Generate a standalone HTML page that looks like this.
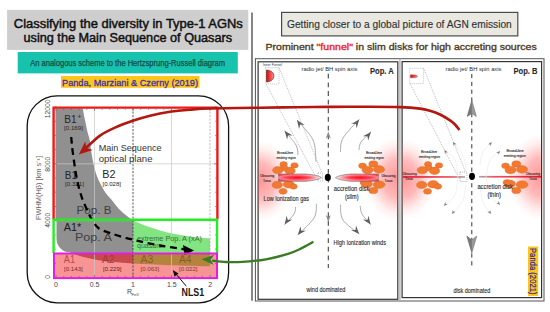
<!DOCTYPE html>
<html><head><meta charset="utf-8"><style>
html,body{margin:0;padding:0;background:#fff;}
body{width:550px;height:312px;overflow:hidden;position:relative;font-family:"Liberation Sans", sans-serif;}
svg{position:absolute;left:0;top:0;}
</style></head><body>
<svg width="550" height="312" viewBox="0 0 550 312" font-family='"Liberation Sans", sans-serif'>
<!-- left header -->
<rect x="7.1" y="9.9" width="241.2" height="40" fill="#cecece"/>
<text x="128.3" y="27.7" font-size="12.1" font-weight="normal" stroke="#111" stroke-width="0.45" text-anchor="middle" fill="#111" textLength="229" lengthAdjust="spacingAndGlyphs">Classifying the diversity in Type-1 AGNs</text>
<text x="127.8" y="41.5" font-size="12.1" font-weight="normal" stroke="#111" stroke-width="0.45" text-anchor="middle" fill="#111" textLength="208.5" lengthAdjust="spacingAndGlyphs">using the Main Sequence of Quasars</text>
<rect x="17.7" y="52" width="220.1" height="21.4" fill="#18c3ad"/>
<text x="30.3" y="66.2" font-size="8.8" fill="#0f4d48" stroke="#0f4d48" stroke-width="0.25" textLength="194.7" lengthAdjust="spacingAndGlyphs">An analogous scheme to the Hertzsprung-Russell diagram</text>
<rect x="61" y="76" width="138.4" height="11.8" fill="#ffc61a"/>
<text x="62" y="85.8" font-size="9.8" fill="#3a30b4" stroke="#3a30b4" stroke-width="0.3" textLength="136" lengthAdjust="spacingAndGlyphs">Panda, Marziani &amp; Czerny (2019)</text>
<!-- rounded box -->
<rect x="27.2" y="95.8" width="201.4" height="207" rx="30" ry="30" fill="none" stroke="#111" stroke-width="1.3"/>

<defs>
 <clipPath id="cG"><rect x="54" y="100" width="79" height="153"/></clipPath>
 <clipPath id="cGr"><rect x="133" y="100" width="84" height="153"/></clipPath>
 <clipPath id="cR"><rect x="54" y="253" width="79" height="30"/></clipPath>
 <clipPath id="cB"><rect x="133" y="253" width="84" height="30"/></clipPath>
</defs>
<rect x="54" y="253" width="163" height="24.5" fill="#f89494"/>
<path d="M55.5,108.5 L82.7,108.5 C83.08,110.42 84.20,116.08 85.00,120.00 C85.80,123.92 86.72,128.67 87.50,132.00 C88.28,135.33 89.12,137.00 89.70,140.00 C90.28,143.00 90.50,146.67 91.00,150.00 C91.50,153.33 92.03,156.67 92.70,160.00 C93.37,163.33 94.03,166.67 95.00,170.00 C95.97,173.33 97.03,176.67 98.50,180.00 C99.97,183.33 102.33,187.50 103.80,190.00 C105.27,192.50 105.83,193.17 107.30,195.00 C108.77,196.83 110.65,198.67 112.60,201.00 C114.55,203.33 116.72,206.60 119.00,209.00 C121.28,211.40 123.88,213.48 126.30,215.40 C128.72,217.32 130.38,218.82 133.50,220.50 C136.62,222.18 141.08,224.00 145.00,225.50 C148.92,227.00 152.83,228.25 157.00,229.50 C161.17,230.75 164.50,231.83 170.00,233.00 C175.50,234.17 183.33,235.58 190.00,236.50 C196.67,237.42 206.67,238.17 210.00,238.50 L210,266.3 C203.33,266.12 182.83,265.65 170.00,265.20 C157.17,264.75 143.00,264.20 133.00,263.60 C123.00,263.00 116.33,262.30 110.00,261.60 C103.67,260.90 100.00,260.33 95.00,259.40 C90.00,258.47 84.33,257.20 80.00,256.00 C75.67,254.80 70.83,252.83 69.00,252.20 A12.5,14 0 0 1 56.5,238 L56.5,219.5 L55.5,219.5 L55.5,108.5 Z" fill="#909090" clip-path="url(#cG)"/>
<path d="M55.5,108.5 L82.7,108.5 C83.08,110.42 84.20,116.08 85.00,120.00 C85.80,123.92 86.72,128.67 87.50,132.00 C88.28,135.33 89.12,137.00 89.70,140.00 C90.28,143.00 90.50,146.67 91.00,150.00 C91.50,153.33 92.03,156.67 92.70,160.00 C93.37,163.33 94.03,166.67 95.00,170.00 C95.97,173.33 97.03,176.67 98.50,180.00 C99.97,183.33 102.33,187.50 103.80,190.00 C105.27,192.50 105.83,193.17 107.30,195.00 C108.77,196.83 110.65,198.67 112.60,201.00 C114.55,203.33 116.72,206.60 119.00,209.00 C121.28,211.40 123.88,213.48 126.30,215.40 C128.72,217.32 130.38,218.82 133.50,220.50 C136.62,222.18 141.08,224.00 145.00,225.50 C148.92,227.00 152.83,228.25 157.00,229.50 C161.17,230.75 164.50,231.83 170.00,233.00 C175.50,234.17 183.33,235.58 190.00,236.50 C196.67,237.42 206.67,238.17 210.00,238.50 L210,266.3 C203.33,266.12 182.83,265.65 170.00,265.20 C157.17,264.75 143.00,264.20 133.00,263.60 C123.00,263.00 116.33,262.30 110.00,261.60 C103.67,260.90 100.00,260.33 95.00,259.40 C90.00,258.47 84.33,257.20 80.00,256.00 C75.67,254.80 70.83,252.83 69.00,252.20 A12.5,14 0 0 1 56.5,238 L56.5,219.5 L55.5,219.5 L55.5,108.5 Z" fill="#82e582" clip-path="url(#cGr)"/>
<path d="M55.5,108.5 L82.7,108.5 C83.08,110.42 84.20,116.08 85.00,120.00 C85.80,123.92 86.72,128.67 87.50,132.00 C88.28,135.33 89.12,137.00 89.70,140.00 C90.28,143.00 90.50,146.67 91.00,150.00 C91.50,153.33 92.03,156.67 92.70,160.00 C93.37,163.33 94.03,166.67 95.00,170.00 C95.97,173.33 97.03,176.67 98.50,180.00 C99.97,183.33 102.33,187.50 103.80,190.00 C105.27,192.50 105.83,193.17 107.30,195.00 C108.77,196.83 110.65,198.67 112.60,201.00 C114.55,203.33 116.72,206.60 119.00,209.00 C121.28,211.40 123.88,213.48 126.30,215.40 C128.72,217.32 130.38,218.82 133.50,220.50 C136.62,222.18 141.08,224.00 145.00,225.50 C148.92,227.00 152.83,228.25 157.00,229.50 C161.17,230.75 164.50,231.83 170.00,233.00 C175.50,234.17 183.33,235.58 190.00,236.50 C196.67,237.42 206.67,238.17 210.00,238.50 L210,266.3 C203.33,266.12 182.83,265.65 170.00,265.20 C157.17,264.75 143.00,264.20 133.00,263.60 C123.00,263.00 116.33,262.30 110.00,261.60 C103.67,260.90 100.00,260.33 95.00,259.40 C90.00,258.47 84.33,257.20 80.00,256.00 C75.67,254.80 70.83,252.83 69.00,252.20 A12.5,14 0 0 1 56.5,238 L56.5,219.5 L55.5,219.5 L55.5,108.5 Z" fill="#c84a4a" clip-path="url(#cR)"/>
<path d="M55.5,108.5 L82.7,108.5 C83.08,110.42 84.20,116.08 85.00,120.00 C85.80,123.92 86.72,128.67 87.50,132.00 C88.28,135.33 89.12,137.00 89.70,140.00 C90.28,143.00 90.50,146.67 91.00,150.00 C91.50,153.33 92.03,156.67 92.70,160.00 C93.37,163.33 94.03,166.67 95.00,170.00 C95.97,173.33 97.03,176.67 98.50,180.00 C99.97,183.33 102.33,187.50 103.80,190.00 C105.27,192.50 105.83,193.17 107.30,195.00 C108.77,196.83 110.65,198.67 112.60,201.00 C114.55,203.33 116.72,206.60 119.00,209.00 C121.28,211.40 123.88,213.48 126.30,215.40 C128.72,217.32 130.38,218.82 133.50,220.50 C136.62,222.18 141.08,224.00 145.00,225.50 C148.92,227.00 152.83,228.25 157.00,229.50 C161.17,230.75 164.50,231.83 170.00,233.00 C175.50,234.17 183.33,235.58 190.00,236.50 C196.67,237.42 206.67,238.17 210.00,238.50 L210,266.3 C203.33,266.12 182.83,265.65 170.00,265.20 C157.17,264.75 143.00,264.20 133.00,263.60 C123.00,263.00 116.33,262.30 110.00,261.60 C103.67,260.90 100.00,260.33 95.00,259.40 C90.00,258.47 84.33,257.20 80.00,256.00 C75.67,254.80 70.83,252.83 69.00,252.20 A12.5,14 0 0 1 56.5,238 L56.5,219.5 L55.5,219.5 L55.5,108.5 Z" fill="#b4843e" clip-path="url(#cB)"/>
<line x1="94.5" y1="108" x2="94.5" y2="277" stroke="#c8c8c8" stroke-width="0.7"/><line x1="171.5" y1="108" x2="171.5" y2="277" stroke="#c8c8c8" stroke-width="0.7"/><line x1="133.0" y1="108" x2="133.0" y2="277" stroke="#333" stroke-width="0.8" stroke-dasharray="2.2,1.3"/><line x1="210.0" y1="108" x2="210.0" y2="277" stroke="#a8a8a8" stroke-width="0.8" stroke-dasharray="2.2,1.3"/><line x1="54" y1="163.8" x2="217" y2="163.8" stroke="#c8c8c8" stroke-width="0.7"/><line x1="54" y1="220.7" x2="217" y2="220.7" stroke="#c8c8c8" stroke-width="0.7"/>
<line x1="56.0" y1="277.5" x2="56.0" y2="275.0" stroke="#444" stroke-width="0.5"/><line x1="56.0" y1="108.5" x2="56.0" y2="111.0" stroke="#444" stroke-width="0.5"/><line x1="63.7" y1="277.5" x2="63.7" y2="276.0" stroke="#444" stroke-width="0.5"/><line x1="63.7" y1="108.5" x2="63.7" y2="110.0" stroke="#444" stroke-width="0.5"/><line x1="71.4" y1="277.5" x2="71.4" y2="276.0" stroke="#444" stroke-width="0.5"/><line x1="71.4" y1="108.5" x2="71.4" y2="110.0" stroke="#444" stroke-width="0.5"/><line x1="79.1" y1="277.5" x2="79.1" y2="276.0" stroke="#444" stroke-width="0.5"/><line x1="79.1" y1="108.5" x2="79.1" y2="110.0" stroke="#444" stroke-width="0.5"/><line x1="86.8" y1="277.5" x2="86.8" y2="276.0" stroke="#444" stroke-width="0.5"/><line x1="86.8" y1="108.5" x2="86.8" y2="110.0" stroke="#444" stroke-width="0.5"/><line x1="94.5" y1="277.5" x2="94.5" y2="275.0" stroke="#444" stroke-width="0.5"/><line x1="94.5" y1="108.5" x2="94.5" y2="111.0" stroke="#444" stroke-width="0.5"/><line x1="102.2" y1="277.5" x2="102.2" y2="276.0" stroke="#444" stroke-width="0.5"/><line x1="102.2" y1="108.5" x2="102.2" y2="110.0" stroke="#444" stroke-width="0.5"/><line x1="109.9" y1="277.5" x2="109.9" y2="276.0" stroke="#444" stroke-width="0.5"/><line x1="109.9" y1="108.5" x2="109.9" y2="110.0" stroke="#444" stroke-width="0.5"/><line x1="117.6" y1="277.5" x2="117.6" y2="276.0" stroke="#444" stroke-width="0.5"/><line x1="117.6" y1="108.5" x2="117.6" y2="110.0" stroke="#444" stroke-width="0.5"/><line x1="125.3" y1="277.5" x2="125.3" y2="276.0" stroke="#444" stroke-width="0.5"/><line x1="125.3" y1="108.5" x2="125.3" y2="110.0" stroke="#444" stroke-width="0.5"/><line x1="133.0" y1="277.5" x2="133.0" y2="275.0" stroke="#444" stroke-width="0.5"/><line x1="133.0" y1="108.5" x2="133.0" y2="111.0" stroke="#444" stroke-width="0.5"/><line x1="140.7" y1="277.5" x2="140.7" y2="276.0" stroke="#444" stroke-width="0.5"/><line x1="140.7" y1="108.5" x2="140.7" y2="110.0" stroke="#444" stroke-width="0.5"/><line x1="148.4" y1="277.5" x2="148.4" y2="276.0" stroke="#444" stroke-width="0.5"/><line x1="148.4" y1="108.5" x2="148.4" y2="110.0" stroke="#444" stroke-width="0.5"/><line x1="156.1" y1="277.5" x2="156.1" y2="276.0" stroke="#444" stroke-width="0.5"/><line x1="156.1" y1="108.5" x2="156.1" y2="110.0" stroke="#444" stroke-width="0.5"/><line x1="163.8" y1="277.5" x2="163.8" y2="276.0" stroke="#444" stroke-width="0.5"/><line x1="163.8" y1="108.5" x2="163.8" y2="110.0" stroke="#444" stroke-width="0.5"/><line x1="171.5" y1="277.5" x2="171.5" y2="275.0" stroke="#444" stroke-width="0.5"/><line x1="171.5" y1="108.5" x2="171.5" y2="111.0" stroke="#444" stroke-width="0.5"/><line x1="179.2" y1="277.5" x2="179.2" y2="276.0" stroke="#444" stroke-width="0.5"/><line x1="179.2" y1="108.5" x2="179.2" y2="110.0" stroke="#444" stroke-width="0.5"/><line x1="186.9" y1="277.5" x2="186.9" y2="276.0" stroke="#444" stroke-width="0.5"/><line x1="186.9" y1="108.5" x2="186.9" y2="110.0" stroke="#444" stroke-width="0.5"/><line x1="194.6" y1="277.5" x2="194.6" y2="276.0" stroke="#444" stroke-width="0.5"/><line x1="194.6" y1="108.5" x2="194.6" y2="110.0" stroke="#444" stroke-width="0.5"/><line x1="202.3" y1="277.5" x2="202.3" y2="276.0" stroke="#444" stroke-width="0.5"/><line x1="202.3" y1="108.5" x2="202.3" y2="110.0" stroke="#444" stroke-width="0.5"/><line x1="210.0" y1="277.5" x2="210.0" y2="275.0" stroke="#444" stroke-width="0.5"/><line x1="210.0" y1="108.5" x2="210.0" y2="111.0" stroke="#444" stroke-width="0.5"/><line x1="217.7" y1="277.5" x2="217.7" y2="276.0" stroke="#444" stroke-width="0.5"/><line x1="217.7" y1="108.5" x2="217.7" y2="110.0" stroke="#444" stroke-width="0.5"/><line x1="54.5" y1="277.5" x2="57.0" y2="277.5" stroke="#444" stroke-width="0.5"/><line x1="216.5" y1="277.5" x2="214.0" y2="277.5" stroke="#444" stroke-width="0.5"/><line x1="54.5" y1="263.3" x2="56.0" y2="263.3" stroke="#444" stroke-width="0.5"/><line x1="216.5" y1="263.3" x2="215.0" y2="263.3" stroke="#444" stroke-width="0.5"/><line x1="54.5" y1="249.1" x2="56.0" y2="249.1" stroke="#444" stroke-width="0.5"/><line x1="216.5" y1="249.1" x2="215.0" y2="249.1" stroke="#444" stroke-width="0.5"/><line x1="54.5" y1="234.9" x2="56.0" y2="234.9" stroke="#444" stroke-width="0.5"/><line x1="216.5" y1="234.9" x2="215.0" y2="234.9" stroke="#444" stroke-width="0.5"/><line x1="54.5" y1="220.7" x2="57.0" y2="220.7" stroke="#444" stroke-width="0.5"/><line x1="216.5" y1="220.7" x2="214.0" y2="220.7" stroke="#444" stroke-width="0.5"/><line x1="54.5" y1="206.5" x2="56.0" y2="206.5" stroke="#444" stroke-width="0.5"/><line x1="216.5" y1="206.5" x2="215.0" y2="206.5" stroke="#444" stroke-width="0.5"/><line x1="54.5" y1="192.2" x2="56.0" y2="192.2" stroke="#444" stroke-width="0.5"/><line x1="216.5" y1="192.2" x2="215.0" y2="192.2" stroke="#444" stroke-width="0.5"/><line x1="54.5" y1="178.0" x2="56.0" y2="178.0" stroke="#444" stroke-width="0.5"/><line x1="216.5" y1="178.0" x2="215.0" y2="178.0" stroke="#444" stroke-width="0.5"/><line x1="54.5" y1="163.8" x2="57.0" y2="163.8" stroke="#444" stroke-width="0.5"/><line x1="216.5" y1="163.8" x2="214.0" y2="163.8" stroke="#444" stroke-width="0.5"/><line x1="54.5" y1="149.6" x2="56.0" y2="149.6" stroke="#444" stroke-width="0.5"/><line x1="216.5" y1="149.6" x2="215.0" y2="149.6" stroke="#444" stroke-width="0.5"/><line x1="54.5" y1="135.4" x2="56.0" y2="135.4" stroke="#444" stroke-width="0.5"/><line x1="216.5" y1="135.4" x2="215.0" y2="135.4" stroke="#444" stroke-width="0.5"/><line x1="54.5" y1="121.2" x2="56.0" y2="121.2" stroke="#444" stroke-width="0.5"/><line x1="216.5" y1="121.2" x2="215.0" y2="121.2" stroke="#444" stroke-width="0.5"/><line x1="54.5" y1="107.0" x2="57.0" y2="107.0" stroke="#444" stroke-width="0.5"/><line x1="216.5" y1="107.0" x2="214.0" y2="107.0" stroke="#444" stroke-width="0.5"/>
<g font-family='"Liberation Sans", sans-serif'>
<text x="64.2" y="122.9" font-size="10.6" fill="#262626" text-anchor="start" font-weight="normal" textLength="12.4" lengthAdjust="spacingAndGlyphs" >B1</text><text x="77.6" y="118.6" font-size="6.5" fill="#262626" text-anchor="start" font-weight="normal" >+</text>
<text x="64" y="130" font-size="6.2" fill="#262626" text-anchor="start" font-weight="normal" textLength="19" lengthAdjust="spacingAndGlyphs" >[0.169]</text>
<text x="64.8" y="178.6" font-size="10.6" fill="#262626" text-anchor="start" font-weight="normal" textLength="12.2" lengthAdjust="spacingAndGlyphs" >B1</text>
<text x="65" y="185.5" font-size="6.2" fill="#262626" text-anchor="start" font-weight="normal" textLength="19" lengthAdjust="spacingAndGlyphs" >[0.321]</text>
<text x="102.3" y="178.4" font-size="10.6" fill="#262626" text-anchor="start" font-weight="normal" textLength="13.2" lengthAdjust="spacingAndGlyphs" >B2</text>
<text x="102.5" y="186.3" font-size="6.2" fill="#262626" text-anchor="start" font-weight="normal" textLength="18.5" lengthAdjust="spacingAndGlyphs" >[0.028]</text>
<text x="76.5" y="214" font-size="10.2" fill="#404040" text-anchor="start" font-weight="normal" textLength="35" lengthAdjust="spacingAndGlyphs" >Pop. B</text>
<text x="63.8" y="231.4" font-size="10.6" fill="#1a1a1a" text-anchor="start" font-weight="normal" textLength="17.5" lengthAdjust="spacingAndGlyphs" >A1*</text>
<text x="75" y="241" font-size="10.2" fill="#404040" text-anchor="start" font-weight="normal" textLength="37" lengthAdjust="spacingAndGlyphs" >Pop. A</text>
<text x="98.7" y="151" font-size="9" fill="#333" text-anchor="start" font-weight="normal" textLength="62.8" lengthAdjust="spacingAndGlyphs" >Main Sequence</text>
<text x="98.7" y="161.7" font-size="9" fill="#333" text-anchor="start" font-weight="normal" textLength="53.8" lengthAdjust="spacingAndGlyphs" >optical plane</text>
<text x="63.8" y="262.9" font-size="10.6" fill="#b94848" text-anchor="start" font-weight="normal" textLength="11.2" lengthAdjust="spacingAndGlyphs" >A1</text>
<text x="64" y="270.5" font-size="6.2" fill="#7a2a2a" text-anchor="start" font-weight="normal" textLength="18.8" lengthAdjust="spacingAndGlyphs" >[0.143]</text>
<text x="102" y="262.9" font-size="10.6" fill="#a03a3a" text-anchor="start" font-weight="normal" textLength="12.6" lengthAdjust="spacingAndGlyphs" >A2</text>
<text x="103" y="270.5" font-size="6.2" fill="#6a2020" text-anchor="start" font-weight="normal" textLength="18.5" lengthAdjust="spacingAndGlyphs" >[0.229]</text>
<text x="140.6" y="262.9" font-size="10.6" fill="#8c5a2a" text-anchor="start" font-weight="normal" textLength="12.8" lengthAdjust="spacingAndGlyphs" >A3</text>
<text x="140.6" y="270.5" font-size="6.2" fill="#7a3e2a" text-anchor="start" font-weight="normal" textLength="18.5" lengthAdjust="spacingAndGlyphs" >[0.063]</text>
<text x="179" y="262.9" font-size="10.6" fill="#8c5a2a" text-anchor="start" font-weight="normal" textLength="12.6" lengthAdjust="spacingAndGlyphs" >A4</text>
<text x="179" y="270.5" font-size="6.2" fill="#7a3e2a" text-anchor="start" font-weight="normal" textLength="18.5" lengthAdjust="spacingAndGlyphs" >[0.022]</text>
<text x="137" y="240.5" font-size="7" fill="#3a6e3a" text-anchor="start" font-weight="normal" textLength="65" lengthAdjust="spacingAndGlyphs" >extreme Pop. A (xA)</text>
<text x="137" y="247.8" font-size="7" fill="#3a6e3a" text-anchor="start" font-weight="normal" textLength="25" lengthAdjust="spacingAndGlyphs" >quasars</text>
</g>
<path d="M71.2,137 C71.47,139.57 71.88,145.57 72.80,152.40 C73.72,159.23 75.20,170.52 76.70,178.00 C78.20,185.48 79.83,191.47 81.80,197.30 C83.77,203.13 86.63,208.97 88.50,213.00 C90.37,217.03 91.25,218.92 93.00,221.50 C94.75,224.08 96.22,226.60 99.00,228.50 C101.78,230.40 105.87,231.52 109.70,232.90 C113.53,234.28 118.18,235.68 122.00,236.80 C125.82,237.92 129.27,238.77 132.60,239.60 C135.93,240.43 137.00,240.73 142.00,241.80 C147.00,242.87 155.27,244.72 162.60,246.00 C169.93,247.28 182.10,248.92 186.00,249.50" fill="none" stroke="#000" stroke-width="2.3" stroke-dasharray="6.8,4.6"/>
<path d="M194,250.5 L183,245 L184.5,255 Z" fill="#000"/>
<path d="M53.6,219.5 L53.6,107.6 L217.4,107.6 L217.4,219.5" fill="none" stroke="#ee1a1a" stroke-width="2.4"/>
<path d="M53.6,253 L53.6,219.8 L217,219.8 L217,253" fill="none" stroke="#22ee22" stroke-width="2.4"/>
<rect x="54" y="253.5" width="163" height="24.6" fill="none" stroke="#e21ee2" stroke-width="2"/>
<g font-family='"Liberation Sans", sans-serif' fill="#474747" font-size="7">
 <text x="56" y="286.5" text-anchor="middle">0</text>
 <text x="94.5" y="286.5" text-anchor="middle">0.5</text>
 <text x="133" y="286.5" text-anchor="middle">1</text>
 <text x="171.8" y="286.5" text-anchor="middle">1.5</text>
 <text x="210.3" y="286.5" text-anchor="middle">2</text>
 <text x="127" y="293.5" font-size="7">R</text><text x="131.5" y="295.5" font-size="4.2">FeII</text>
 <text transform="translate(50,108.8) rotate(-90)" text-anchor="middle" font-size="6.8">12000</text>
 <text transform="translate(50,164.2) rotate(-90)" text-anchor="middle" font-size="6.8">8000</text>
 <text transform="translate(50,220.2) rotate(-90)" text-anchor="middle" font-size="6.8">4000</text>
 <text transform="translate(50,276.9) rotate(-90)" text-anchor="middle" font-size="6.8">0</text>
 <text transform="translate(40.8,188) rotate(-90)" text-anchor="middle" font-size="6.6" fill="#666" textLength="64" lengthAdjust="spacingAndGlyphs">FWHM(Hβ) [km s⁻¹]</text>
</g>
<text x="181.5" y="296.4" font-family='"Liberation Sans", sans-serif' font-size="10.6" font-weight="bold" fill="#1a1a1a" textLength="22.7" lengthAdjust="spacingAndGlyphs">NLS1</text>
<line x1="186.3" y1="286.2" x2="176" y2="274" stroke="#111" stroke-width="1"/>
<path d="M172.8,270.1 L178.5,273.5 L174.5,276.8 Z" fill="#111"/>

<!-- divider -->
<line x1="252" y1="12.5" x2="252" y2="300.8" stroke="#444" stroke-width="1.3"/>
<!-- right header -->
<rect x="281.6" y="12.4" width="236.2" height="23.5" fill="#e9e9e1" stroke="#4a4a4a" stroke-width="1.2"/>
<text x="287" y="28" font-size="10.2" fill="#333" stroke="#333" stroke-width="0.15" textLength="224.8" lengthAdjust="spacingAndGlyphs">Getting closer to a global picture of AGN emission</text>
<text x="265.5" y="50.3" font-size="9.8" font-weight="normal" fill="#4e3a24" stroke="#4e3a24" stroke-width="0.35" textLength="271.2" lengthAdjust="spacingAndGlyphs">Prominent <tspan fill="#f01c1c" stroke="#f01c1c">"funnel"</tspan> in slim disks for high accreting sources</text>

<defs>
 <radialGradient id="gl"><stop offset="0" stop-color="#ff4040" stop-opacity="0.55"/><stop offset="0.45" stop-color="#ff4848" stop-opacity="0.38"/><stop offset="0.8" stop-color="#ff6060" stop-opacity="0.1"/><stop offset="1" stop-color="#ff6060" stop-opacity="0"/></radialGradient>
 <linearGradient id="dL" x1="0" x2="1"><stop offset="0" stop-color="#ff4050"/><stop offset="0.55" stop-color="#ff6070"/><stop offset="0.85" stop-color="#ffb8c0"/><stop offset="1" stop-color="#fff4f4"/></linearGradient>
 <linearGradient id="dR" x1="1" x2="0"><stop offset="0" stop-color="#ff4050"/><stop offset="0.55" stop-color="#ff6070"/><stop offset="0.85" stop-color="#ffb8c0"/><stop offset="1" stop-color="#fff4f4"/></linearGradient>
 <linearGradient id="tL" x1="0" x2="1"><stop offset="0" stop-color="#e01828"/><stop offset="0.75" stop-color="#f05060"/><stop offset="1" stop-color="#aaa"/></linearGradient>
 <linearGradient id="tR" x1="1" x2="0"><stop offset="0" stop-color="#e01828"/><stop offset="0.75" stop-color="#f05060"/><stop offset="1" stop-color="#aaa"/></linearGradient>
 <radialGradient id="cr"><stop offset="0" stop-color="#ff0a1e"/><stop offset="0.6" stop-color="#ff4a5a"/><stop offset="1" stop-color="#ffb0b8" stop-opacity="0.6"/></radialGradient>
 <linearGradient id="fn" x1="0" x2="1"><stop offset="0" stop-color="#e00000"/><stop offset="1" stop-color="#ff9090"/></linearGradient>
 <clipPath id="pA"><rect x="258.5" y="62" width="139" height="237"/></clipPath>
 <clipPath id="pB"><rect x="402.3" y="62" width="138.6" height="235"/></clipPath>
</defs>
<!-- frames -->
<rect x="255.4" y="58.7" width="288.6" height="242.3" fill="none" stroke="#555" stroke-width="1"/>
<rect x="258.1" y="61.8" width="139.7" height="237.5" fill="#fff" stroke="#333" stroke-width="1.2"/>
<rect x="402.1" y="61.6" width="139.5" height="236" fill="#fff" stroke="#333" stroke-width="1.2"/>
<line x1="399.9" y1="59" x2="399.9" y2="300.5" stroke="#bbb" stroke-width="1.5"/>

<g clip-path="url(#pA)">
 <ellipse cx="261" cy="181" rx="31" ry="40" fill="url(#gl)"/><ellipse cx="397" cy="179" rx="32" ry="42" fill="url(#gl)"/>
</g>
<g clip-path="url(#pB)">
 <ellipse cx="404" cy="179" rx="31" ry="40" fill="url(#gl)"/><ellipse cx="541" cy="177" rx="33" ry="43" fill="url(#gl)"/>
</g>

<!-- Panel A -->
<g>
 <text x="263" y="66.2" font-size="3.6" fill="#333" style="font-family:'Liberation Sans',sans-serif" textLength="19" lengthAdjust="spacingAndGlyphs">Inner Funnel</text>
 <rect x="265.6" y="67.6" width="13.4" height="16.4" fill="none" stroke="#888" stroke-width="0.5" stroke-dasharray="1,1"/>
 <path d="M266.5,70 A7.5,6 0 0 1 266.5,82 Z" fill="url(#fn)" stroke="#400" stroke-width="0.5"/>
 <line x1="266" y1="84" x2="318" y2="181" stroke="#777" stroke-width="0.5" stroke-dasharray="1,1"/>
 <line x1="279" y1="67.6" x2="322" y2="173" stroke="#777" stroke-width="0.5" stroke-dasharray="1,1"/>
 <rect x="318" y="173" width="4.5" height="8" fill="none" stroke="#777" stroke-width="0.5" stroke-dasharray="1,1"/>
 <line x1="328.3" y1="73.8" x2="328.3" y2="268" stroke="#444" stroke-width="1.1" stroke-dasharray="4.8,3.85"/>
 <path d="M328.30,131.50 L330.80,138.50 L328.30,136.40 L325.80,138.50 Z" fill="#8a8a8a"/>
 <path d="M328.30,222.00 L325.80,215.00 L328.30,217.10 L330.80,215.00 Z" fill="#8a8a8a"/>
 <ellipse cx="283.6" cy="164.2" rx="3.7" ry="2.7" fill="#f27a30" stroke="#dd601c" stroke-width="0.4"/><ellipse cx="294.5" cy="165.4" rx="3.7" ry="2.7" fill="#f27a30" stroke="#dd601c" stroke-width="0.4"/><ellipse cx="284.0" cy="168.0" rx="3.9" ry="2.8" fill="#f27a30" stroke="#dd601c" stroke-width="0.4"/><ellipse cx="277.8" cy="170.2" rx="5.2" ry="3.6" fill="#f27a30" stroke="#dd601c" stroke-width="0.4"/><ellipse cx="290.0" cy="170.8" rx="5.2" ry="3.7" fill="#f27a30" stroke="#dd601c" stroke-width="0.4"/><ellipse cx="277.2" cy="184.9" rx="5.2" ry="3.6" fill="#f27a30" stroke="#dd601c" stroke-width="0.4"/><ellipse cx="288.7" cy="184.3" rx="5.6" ry="3.7" fill="#f27a30" stroke="#dd601c" stroke-width="0.4"/><ellipse cx="293.5" cy="186.5" rx="3.7" ry="2.7" fill="#f27a30" stroke="#dd601c" stroke-width="0.4"/><ellipse cx="283.0" cy="191.3" rx="4.0" ry="2.9" fill="#f27a30" stroke="#dd601c" stroke-width="0.4"/><ellipse cx="362.5" cy="165.8" rx="3.9" ry="2.8" fill="#f27a30" stroke="#dd601c" stroke-width="0.4"/><ellipse cx="373.3" cy="164.0" rx="4.5" ry="3.2" fill="#f27a30" stroke="#dd601c" stroke-width="0.4"/><ellipse cx="367.5" cy="170.0" rx="5.6" ry="3.8" fill="#f27a30" stroke="#dd601c" stroke-width="0.4"/><ellipse cx="379.0" cy="169.4" rx="5.6" ry="3.8" fill="#f27a30" stroke="#dd601c" stroke-width="0.4"/><ellipse cx="364.0" cy="182.4" rx="3.9" ry="2.8" fill="#f27a30" stroke="#dd601c" stroke-width="0.4"/><ellipse cx="366.8" cy="183.9" rx="5.6" ry="3.8" fill="#f27a30" stroke="#dd601c" stroke-width="0.4"/><ellipse cx="379.0" cy="184.6" rx="6.0" ry="3.8" fill="#f27a30" stroke="#dd601c" stroke-width="0.4"/><ellipse cx="373.3" cy="190.4" rx="4.5" ry="3.2" fill="#f27a30" stroke="#dd601c" stroke-width="0.4"/>
 <path d="M278.5,174 L306,174 Q318,175 321.5,177.6 Q318,180.2 306,181.3 L278.5,181.3 Z" fill="url(#dL)" stroke="#6a6a6a" stroke-width="0.6"/>
 <ellipse cx="297" cy="177.6" rx="20" ry="3" fill="url(#cr)"/>
 <path d="M378.5,174 L351,174 Q339,175 335.5,177.6 Q339,180.2 351,181.3 L378.5,181.3 Z" fill="url(#dR)" stroke="#6a6a6a" stroke-width="0.6"/>
 <ellipse cx="360" cy="177.6" rx="20" ry="3" fill="url(#cr)"/>
 <ellipse cx="327.8" cy="177.4" rx="3" ry="3.6" fill="#000"/>
 <path d="M316,162 C315.50,158.33 316.17,147.00 313.00,140.00 C309.83,133.00 299.67,123.33 297.00,120.00" fill="none" stroke="#adadad" stroke-width="1.0"/><path d="M297.00,120.00 L304.66,125.01 L300.17,124.53 L299.09,128.91 Z" fill="#5e5e5e"/>
 <path d="M298,155 C297.67,153.33 298.23,149.03 296.00,145.00 C293.77,140.97 286.50,133.17 284.60,130.80" fill="none" stroke="#adadad" stroke-width="1.0"/><path d="M284.60,130.80 L292.51,135.40 L288.00,135.15 L287.15,139.59 Z" fill="#5e5e5e"/>
 <path d="M340.4,152 C340.83,149.67 339.87,143.43 343.00,138.00 C346.13,132.57 356.50,122.50 359.20,119.40" fill="none" stroke="#adadad" stroke-width="1.0"/><path d="M359.20,119.40 L356.65,128.19 L355.80,123.75 L351.29,124.00 Z" fill="#5e5e5e"/>
 <path d="M359,150 C359.33,148.67 359.00,145.02 361.00,142.00 C363.00,138.98 369.33,133.58 371.00,131.90" fill="none" stroke="#adadad" stroke-width="1.0"/><path d="M371.00,131.90 L368.14,140.60 L367.45,136.13 L362.93,136.23 Z" fill="#5e5e5e"/>
 <path d="M316.5,203.75 C316.08,206.12 317.13,212.79 314.00,218.00 C310.87,223.21 300.42,232.17 297.70,235.00" fill="none" stroke="#adadad" stroke-width="1.0"/><path d="M297.70,235.00 L300.56,226.30 L301.25,230.77 L305.77,230.67 Z" fill="#5e5e5e"/>
 <path d="M295.6,206.9 C295.33,208.08 295.83,211.05 294.00,214.00 C292.17,216.95 286.17,222.83 284.60,224.60" fill="none" stroke="#adadad" stroke-width="1.0"/><path d="M284.60,224.60 L286.69,215.69 L287.77,220.07 L292.26,219.59 Z" fill="#5e5e5e"/>
 <path d="M340.4,204.8 C340.83,207.33 339.87,215.13 343.00,220.00 C346.13,224.87 356.50,231.67 359.20,234.00" fill="none" stroke="#adadad" stroke-width="1.0"/><path d="M359.20,234.00 L350.99,229.96 L355.50,229.89 L356.04,225.41 Z" fill="#5e5e5e"/>
 <path d="M360.2,205.8 C360.50,207.17 360.27,210.87 362.00,214.00 C363.73,217.13 369.17,222.83 370.60,224.60" fill="none" stroke="#adadad" stroke-width="1.0"/><path d="M370.60,224.60 L362.94,219.59 L367.43,220.07 L368.51,215.69 Z" fill="#5e5e5e"/>
 <g style="font-family:'Liberation Sans',sans-serif" fill="#2a2a2a" stroke="#2a2a2a" stroke-width="0.12">
  <text x="301.5" y="70.6" font-size="6.1" stroke-width="0" textLength="55.8" lengthAdjust="spacingAndGlyphs">radio jet/ BH spin axis</text>
  <text x="370" y="74.2" font-size="9" font-weight="bold" textLength="23.8" lengthAdjust="spacingAndGlyphs">Pop. A</text>
  <text x="277" y="154" font-size="3.8" textLength="16" lengthAdjust="spacingAndGlyphs">Broad-line</text>
  <text x="276.5" y="158.8" font-size="3.8" textLength="19.5" lengthAdjust="spacingAndGlyphs">emitting region</text>
  <text x="260.3" y="176.8" font-size="3.8" textLength="14" lengthAdjust="spacingAndGlyphs">Obscuring</text>
  <text x="263" y="181.6" font-size="3.8" textLength="8" lengthAdjust="spacingAndGlyphs">Torus</text>
  <text x="366" y="154" font-size="3.8" textLength="16" lengthAdjust="spacingAndGlyphs">Broad-line</text>
  <text x="364.5" y="158.8" font-size="3.8" textLength="19.5" lengthAdjust="spacingAndGlyphs">emitting region</text>
  <text x="381.5" y="176.8" font-size="3.8" textLength="14" lengthAdjust="spacingAndGlyphs">Obscuring</text>
  <text x="384.5" y="181.6" font-size="3.8" textLength="8" lengthAdjust="spacingAndGlyphs">Torus</text>
  <text x="333.8" y="191.2" font-size="6.6" textLength="35.5" lengthAdjust="spacingAndGlyphs">accretion disk</text>
  <text x="345" y="199" font-size="6.6" textLength="13.5" lengthAdjust="spacingAndGlyphs">(slim)</text>
  <text x="263.6" y="201" font-size="6.8" textLength="45.4" lengthAdjust="spacingAndGlyphs">Low Ionization gas</text>
  <text x="333.4" y="244.6" font-size="6.8" textLength="52.6" lengthAdjust="spacingAndGlyphs">High Ionization winds</text>
  <text x="306.6" y="292.4" font-size="6.5" textLength="38.7" lengthAdjust="spacingAndGlyphs">wind dominated</text>
 </g>
</g>

<!-- Panel B -->
<g>
 <rect x="409.7" y="68.3" width="13.9" height="15.3" fill="none" stroke="#888" stroke-width="0.5" stroke-dasharray="1,1"/>
 <path d="M410.5,74.8 L416,75 Q419,76.3 416,77.6 L410.5,77.8 Z" fill="url(#fn)" stroke="#600" stroke-width="0.3"/>
 <line x1="410" y1="83.6" x2="459.5" y2="179" stroke="#777" stroke-width="0.5" stroke-dasharray="1,1"/>
 <line x1="423.6" y1="68.3" x2="465.5" y2="171.8" stroke="#777" stroke-width="0.5" stroke-dasharray="1,1"/>
 <rect x="460" y="172" width="7" height="9.5" fill="none" stroke="#777" stroke-width="0.5" stroke-dasharray="1,1"/>
 <line x1="471.8" y1="74" x2="471.8" y2="268" stroke="#333" stroke-width="1" stroke-dasharray="4.2,3.6"/>
 <path d="M471.8,100.2 L467.2,116.5 L471.8,113.5 L476.4,116.5 Z" fill="#9a9a9a" stroke="#666" stroke-width="0.5"/><path d="M471.8,100.2 L467.2,116.5 L471.8,113.5 Z" fill="#777"/>
 <path d="M471.8,253 L466.8,236 L471.8,240 L476.8,236 Z" fill="#9a9a9a" stroke="#666" stroke-width="0.5"/><path d="M471.8,253 L466.8,236 L471.8,240 Z" fill="#777"/>
 <ellipse cx="428.1" cy="164.2" rx="3.7" ry="2.7" fill="#f27a30" stroke="#dd601c" stroke-width="0.4"/><ellipse cx="439.0" cy="165.4" rx="3.7" ry="2.7" fill="#f27a30" stroke="#dd601c" stroke-width="0.4"/><ellipse cx="428.5" cy="168.0" rx="3.9" ry="2.8" fill="#f27a30" stroke="#dd601c" stroke-width="0.4"/><ellipse cx="422.3" cy="170.2" rx="5.2" ry="3.6" fill="#f27a30" stroke="#dd601c" stroke-width="0.4"/><ellipse cx="434.5" cy="170.8" rx="5.2" ry="3.7" fill="#f27a30" stroke="#dd601c" stroke-width="0.4"/><ellipse cx="421.7" cy="184.9" rx="5.2" ry="3.6" fill="#f27a30" stroke="#dd601c" stroke-width="0.4"/><ellipse cx="433.2" cy="184.3" rx="5.6" ry="3.7" fill="#f27a30" stroke="#dd601c" stroke-width="0.4"/><ellipse cx="438.0" cy="186.5" rx="3.7" ry="2.7" fill="#f27a30" stroke="#dd601c" stroke-width="0.4"/><ellipse cx="427.5" cy="191.3" rx="4.0" ry="2.9" fill="#f27a30" stroke="#dd601c" stroke-width="0.4"/><ellipse cx="505.5" cy="165.8" rx="3.9" ry="2.8" fill="#f27a30" stroke="#dd601c" stroke-width="0.4"/><ellipse cx="516.3" cy="164.0" rx="4.5" ry="3.2" fill="#f27a30" stroke="#dd601c" stroke-width="0.4"/><ellipse cx="510.5" cy="170.0" rx="5.6" ry="3.8" fill="#f27a30" stroke="#dd601c" stroke-width="0.4"/><ellipse cx="522.0" cy="169.4" rx="5.6" ry="3.8" fill="#f27a30" stroke="#dd601c" stroke-width="0.4"/><ellipse cx="507.0" cy="182.4" rx="3.9" ry="2.8" fill="#f27a30" stroke="#dd601c" stroke-width="0.4"/><ellipse cx="509.8" cy="183.9" rx="5.6" ry="3.8" fill="#f27a30" stroke="#dd601c" stroke-width="0.4"/><ellipse cx="522.0" cy="184.6" rx="6.0" ry="3.8" fill="#f27a30" stroke="#dd601c" stroke-width="0.4"/><ellipse cx="516.3" cy="190.4" rx="4.5" ry="3.2" fill="#f27a30" stroke="#dd601c" stroke-width="0.4"/>
 <rect x="403" y="176.1" width="62" height="1.7" fill="url(#tL)"/>
 <rect x="479" y="175.9" width="62" height="1.7" fill="url(#tR)"/>
 <ellipse cx="472" cy="176.3" rx="3" ry="3.6" fill="#000"/>
 <path d="M458,178 C457.50,175.00 457.25,164.67 455.00,160.00 C452.75,155.33 446.25,151.67 444.50,150.00" fill="none" stroke="#e2e2e2" stroke-width="0.5"/><path d="M444.50,150.00 L447.97,152.61 L445.80,152.25 L445.03,154.31 Z" fill="#777"/>
 <path d="M466,170 C465.50,167.50 465.18,159.67 463.00,155.00 C460.82,150.33 454.58,144.17 452.90,142.00" fill="none" stroke="#e2e2e2" stroke-width="0.5"/><path d="M452.90,142.00 L456.59,144.30 L454.39,144.13 L453.80,146.25 Z" fill="#777"/>
 <path d="M480,165 C480.50,162.83 481.05,155.83 483.00,152.00 C484.95,148.17 490.25,143.67 491.70,142.00" fill="none" stroke="#e2e2e2" stroke-width="0.5"/><path d="M491.70,142.00 L490.80,146.25 L490.21,144.13 L488.01,144.30 Z" fill="#777"/>
 <path d="M486,178 C486.67,175.00 487.67,164.52 490.00,160.00 C492.33,155.48 498.33,152.42 500.00,150.90" fill="none" stroke="#e2e2e2" stroke-width="0.5"/><path d="M500.00,150.90 L498.73,155.06 L498.33,152.89 L496.13,152.87 Z" fill="#777"/>
 <path d="M458,176 C457.50,179.17 457.33,190.00 455.00,195.00 C452.67,200.00 445.83,204.17 444.00,206.00" fill="none" stroke="#e2e2e2" stroke-width="0.5"/><path d="M444.00,206.00 L445.27,201.84 L445.67,204.01 L447.87,204.03 Z" fill="#777"/>
 <path d="M466,184 C465.50,186.67 465.33,195.00 463.00,200.00 C460.67,205.00 453.83,211.67 452.00,214.00" fill="none" stroke="#e2e2e2" stroke-width="0.5"/><path d="M452.00,214.00 L452.90,209.75 L453.49,211.87 L455.69,211.70 Z" fill="#777"/>
 <path d="M480,187 C480.50,189.50 481.17,197.50 483.00,202.00 C484.83,206.50 489.67,212.00 491.00,214.00" fill="none" stroke="#e2e2e2" stroke-width="0.5"/><path d="M491.00,214.00 L487.31,211.70 L489.51,211.87 L490.10,209.75 Z" fill="#777"/>
 <path d="M486,176 C486.67,179.17 487.67,190.17 490.00,195.00 C492.33,199.83 498.33,203.33 500.00,205.00" fill="none" stroke="#e2e2e2" stroke-width="0.5"/><path d="M500.00,205.00 L496.13,203.03 L498.33,203.01 L498.73,200.84 Z" fill="#777"/>
 <g style="font-family:'Liberation Sans',sans-serif" fill="#2a2a2a" stroke="#2a2a2a" stroke-width="0.12">
  <text x="445.6" y="70.6" font-size="6.1" stroke-width="0" textLength="55.8" lengthAdjust="spacingAndGlyphs">radio jet/ BH spin axis</text>
  <text x="513.5" y="74.2" font-size="9" font-weight="bold" textLength="24" lengthAdjust="spacingAndGlyphs">Pop. B</text>
  <text x="421" y="153.2" font-size="3.8" textLength="16" lengthAdjust="spacingAndGlyphs">Broad-line</text>
  <text x="419" y="157.8" font-size="3.8" textLength="21" lengthAdjust="spacingAndGlyphs">emitting region</text>
  <text x="402.6" y="175" font-size="3.8" textLength="14" lengthAdjust="spacingAndGlyphs">Obscuring</text>
  <text x="405" y="180" font-size="3.8" textLength="8" lengthAdjust="spacingAndGlyphs">Torus</text>
  <text x="506.5" y="151.6" font-size="3.8" textLength="17" lengthAdjust="spacingAndGlyphs">Broad-line</text>
  <text x="503.8" y="156.8" font-size="3.8" textLength="22" lengthAdjust="spacingAndGlyphs">emitting region</text>
  <text x="526" y="175" font-size="3.8" textLength="14" lengthAdjust="spacingAndGlyphs">Obscuring</text>
  <text x="529" y="180" font-size="3.8" textLength="8" lengthAdjust="spacingAndGlyphs">Torus</text>
  <text x="477.4" y="189" font-size="6.6" textLength="35.5" lengthAdjust="spacingAndGlyphs">accretion disk</text>
  <text x="487.5" y="197.3" font-size="6.6" textLength="13.5" lengthAdjust="spacingAndGlyphs">(thin)</text>
  <text x="453.4" y="293.4" font-size="6.5" textLength="37" lengthAdjust="spacingAndGlyphs">disk dominated</text>
 </g>
 <rect x="528" y="246.5" width="10.2" height="49.5" fill="#ffc61a"/>
 <text transform="translate(530,248) rotate(90)" font-size="9.4" fill="#3226a0" stroke="#3226a0" stroke-width="0.25" style="font-family:'Liberation Sans',sans-serif" textLength="46.5" lengthAdjust="spacingAndGlyphs">Panda (2021)</text>
</g>

<!-- overlay arrows -->
<path d="M459.5,130 C458.75,129.08 456.58,126.12 455.00,124.50 C453.42,122.88 452.50,121.97 450.00,120.30 C447.50,118.63 443.33,116.08 440.00,114.50 C436.67,112.92 433.33,111.78 430.00,110.80 C426.67,109.82 425.00,109.22 420.00,108.60 C415.00,107.98 409.17,107.40 400.00,107.10 C390.83,106.80 376.67,106.83 365.00,106.80 C353.33,106.77 341.67,106.82 330.00,106.90 C318.33,106.98 306.67,107.17 295.00,107.30 C283.33,107.43 274.17,107.50 260.00,107.70 C245.83,107.90 221.67,108.17 210.00,108.50 C198.33,108.83 196.67,109.15 190.00,109.70 C183.33,110.25 176.67,110.80 170.00,111.80 C163.33,112.80 156.08,114.23 150.00,115.70 C143.92,117.17 139.33,118.62 133.50,120.60 C127.67,122.58 120.58,125.10 115.00,127.60 C109.42,130.10 104.83,132.20 100.00,135.60 C95.17,139.00 88.33,145.93 86.00,148.00" fill="none" stroke="#b3170f" stroke-width="2.6"/><path d="M78.80,154.60 L85.22,141.40 L86.44,147.96 L92.76,150.08 Z" fill="#b3170f"/>
<path d="M313.4,241.8 C311.17,243.00 303.97,247.08 300.00,249.00 C296.03,250.92 295.27,251.58 289.60,253.30 C283.93,255.02 273.88,257.87 266.00,259.30 C258.12,260.73 249.02,261.45 242.30,261.90 C235.58,262.35 230.75,262.22 225.70,262.00 C220.65,261.78 214.28,260.83 212.00,260.60" fill="none" stroke="#3a7a22" stroke-width="2.3"/><path d="M201.60,259.20 L214.26,254.66 L210.52,259.67 L213.71,265.04 Z" fill="#3a7a22"/>
</svg>
</body></html>
